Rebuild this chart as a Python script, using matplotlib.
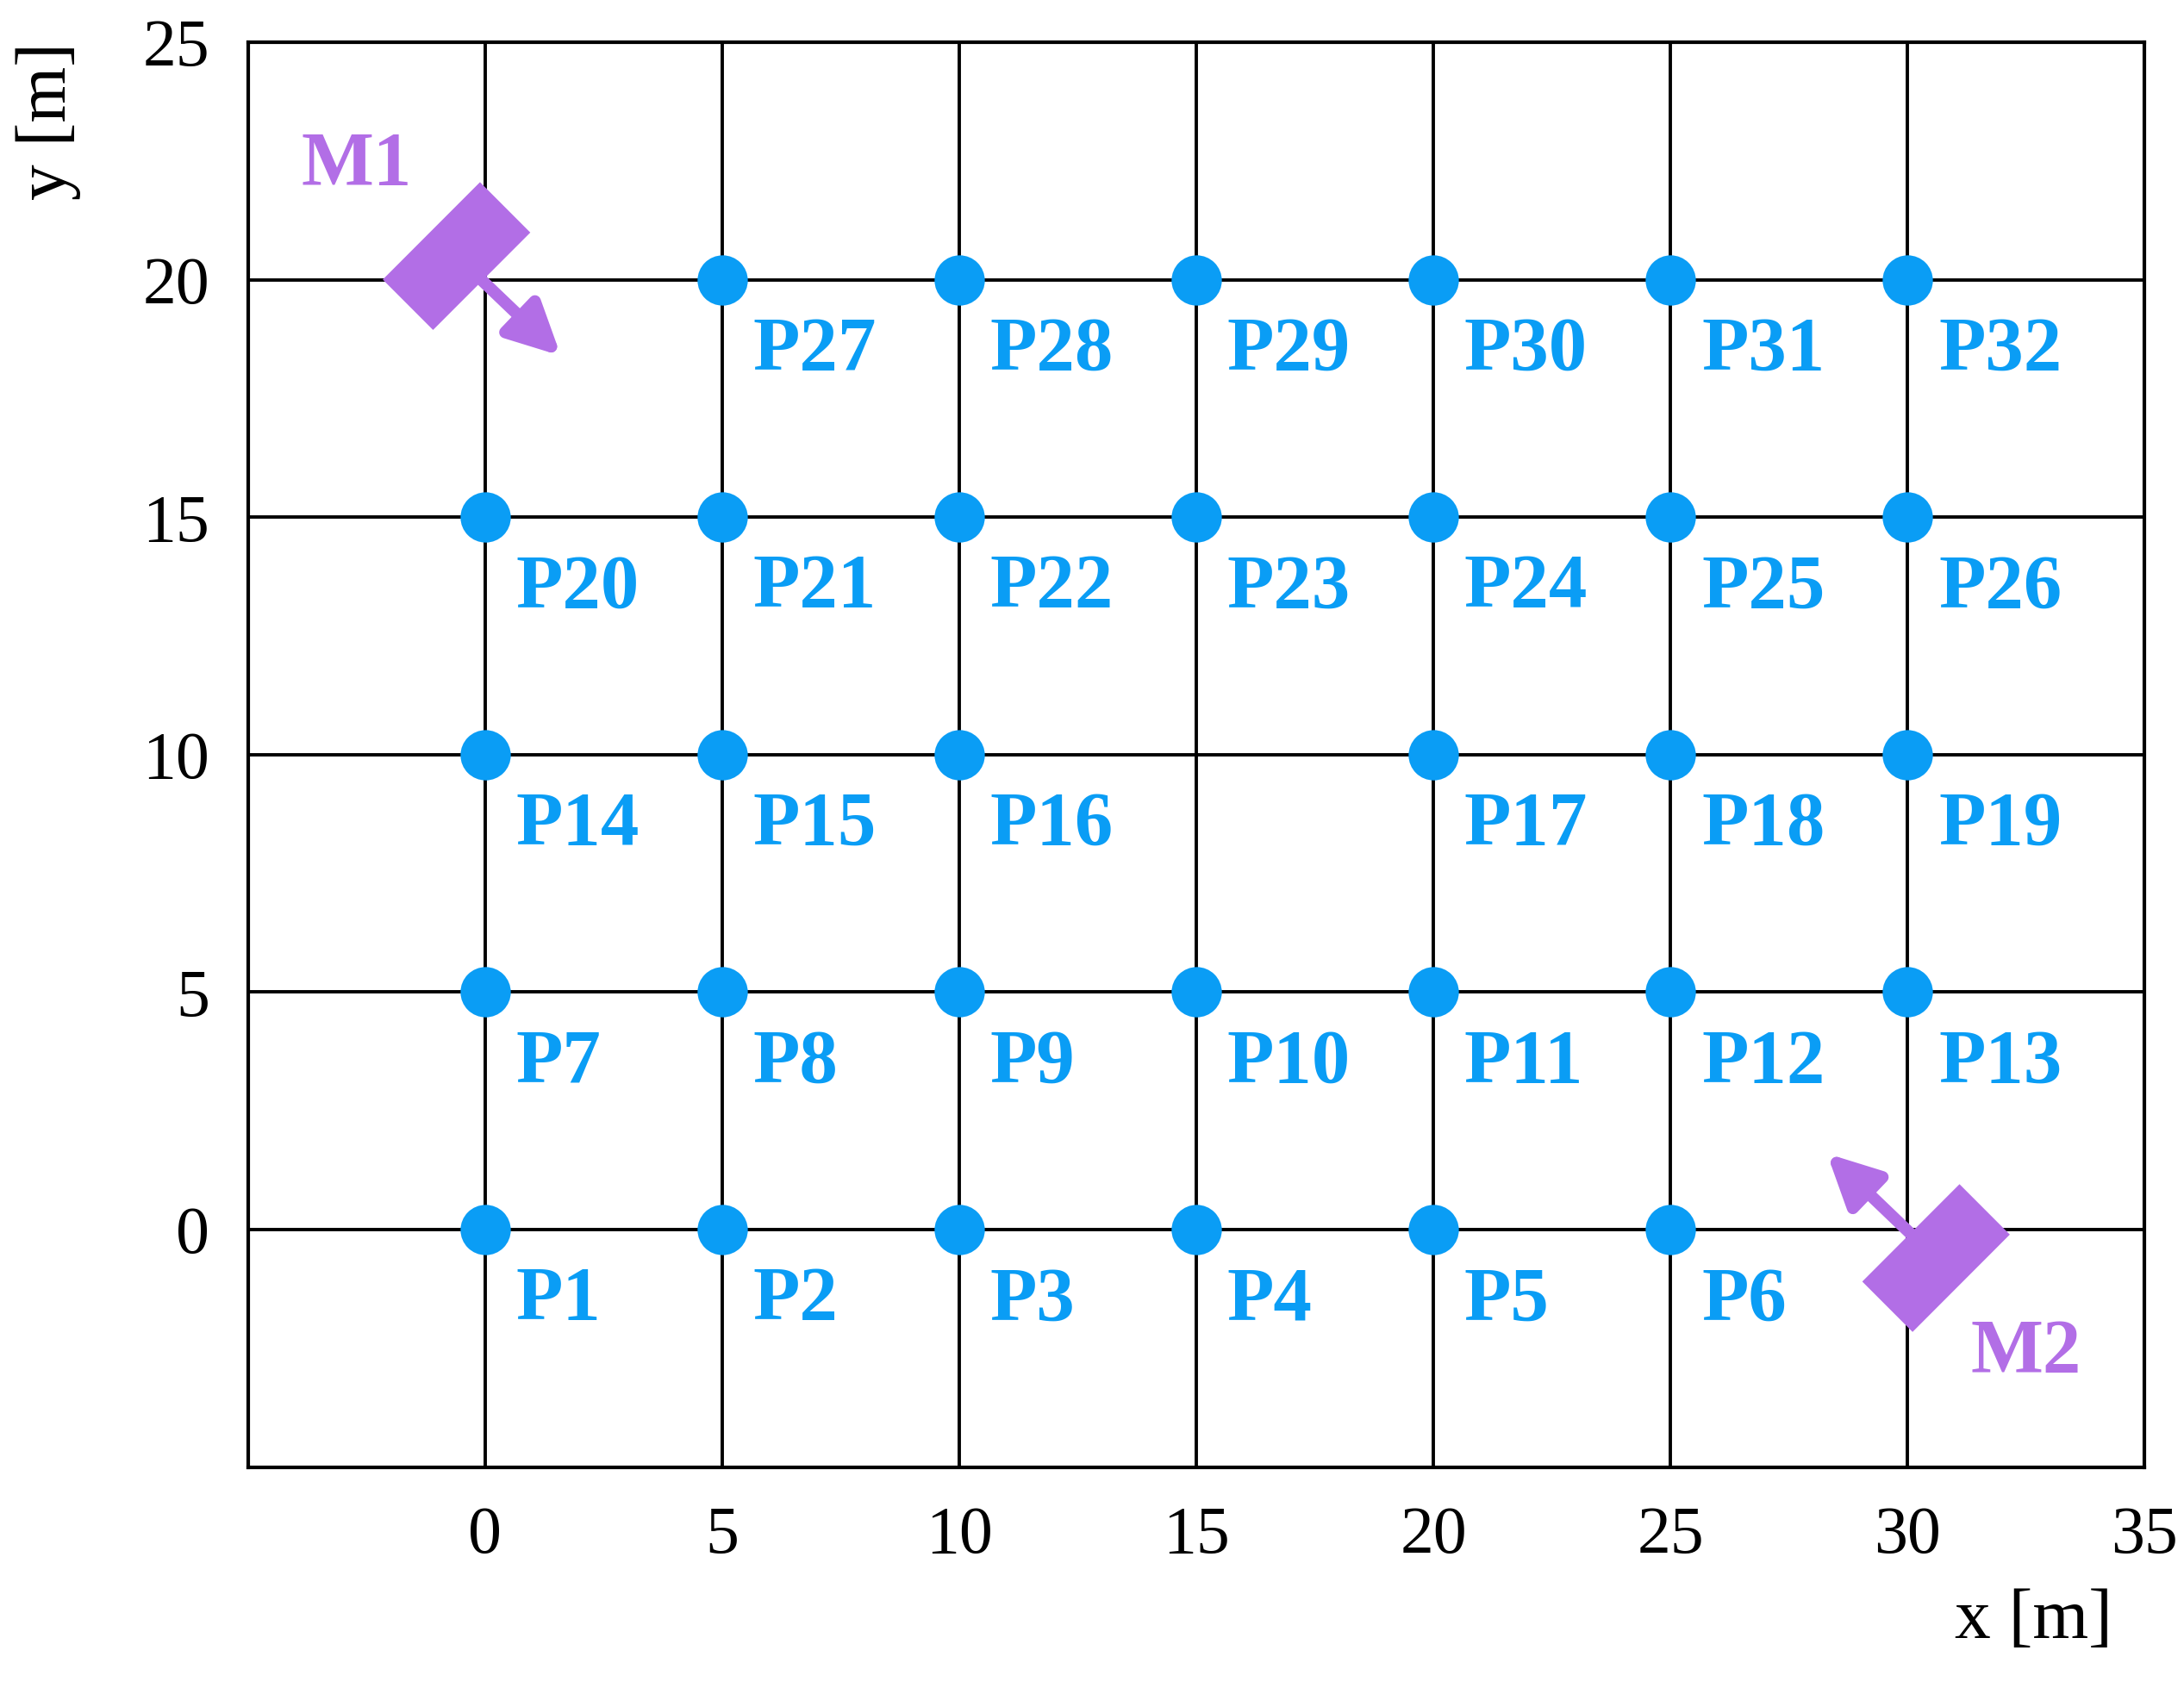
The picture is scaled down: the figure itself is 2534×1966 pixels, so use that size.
import numpy as np
import matplotlib
matplotlib.use('Agg')
import matplotlib.pyplot as plt
from matplotlib import patches, transforms

plt.rcParams['font.family'] = ['Liberation Serif', 'DejaVu Serif']

# point positions (x, y) in metres
pt_x = [0, 5, 10, 15, 20, 25,
        0, 5, 10, 15, 20, 25, 30,
        0, 5, 10, 20, 25, 30,
        0, 5, 10, 15, 20, 25, 30,
        5, 10, 15, 20, 25, 30]
pt_y = [0] * 6 + [5] * 7 + [10] * 6 + [15] * 7 + [20] * 6
pt_names = [f'P{i}' for i in range(1, 33)]

# microphones: centre, arrow tip, label position
mic_names = ['M1', 'M2']
mic_centre = [(-0.6, 20.5), (30.6, -0.6)]
mic_tip = [(1.6, 18.4), (28.3, 1.6)]
mic_label = [(-2.7, 22.4), (32.5, -2.6)]

blue = '#0a9df5'
purple = '#b26ee6'

fig = plt.figure(figsize=(12.67, 9.83), dpi=200)
ax = fig.add_axes([0.1135, 0.134, 0.8685, 0.841])
ax.set_xlim(-5, 35)
ax.set_ylim(-5, 25)

for v in range(0, 35, 5):
    ax.axvline(v, color='black', lw=1.4, zorder=1)
for v in range(0, 25, 5):
    ax.axhline(v, color='black', lw=1.4, zorder=1)

ax.plot(pt_x, pt_y, 'o', color=blue, ms=21, zorder=3, mec='none')
for x, y, n in zip(pt_x, pt_y, pt_names):
    ax.text(x + 0.65, y - 1.5, n, color=blue, fontsize=32, fontweight='bold',
            ha='left', va='center', zorder=4)

for (cx, cy), (tx, ty), (lx, ly), n in zip(mic_centre, mic_tip, mic_label, mic_names):
    w, h = 2.85, 1.45
    rect = patches.Rectangle((cx - w / 2, cy - h / 2), w, h, color=purple, zorder=5,
                             transform=transforms.Affine2D().rotate_deg_around(cx, cy, 45) + ax.transData)
    ax.add_patch(rect)
    ax.annotate('', xy=(tx, ty), xytext=(cx, cy),
                arrowprops=dict(arrowstyle='-|>', color=purple, lw=5,
                                mutation_scale=45, shrinkA=0, shrinkB=0), zorder=5)
    ax.text(lx, ly, n, color=purple, fontsize=32, fontweight='bold',
            ha='center', va='center', zorder=6)

ax.set_xticks(range(0, 40, 5))
ax.set_yticks(range(0, 30, 5))
ax.tick_params(length=0, labelsize=28, pad=16)
for s in ax.spines.values():
    s.set_linewidth(1.5)

ax.text(0.983, -0.085, 'x [m]', transform=ax.transAxes, ha='right', va='top', fontsize=30)
ax.text(-0.105, 1.0, 'y [m]', transform=ax.transAxes, ha='center', va='top',
        fontsize=30, rotation=90)

fig.savefig('out.png', dpi=200, facecolor='white')
